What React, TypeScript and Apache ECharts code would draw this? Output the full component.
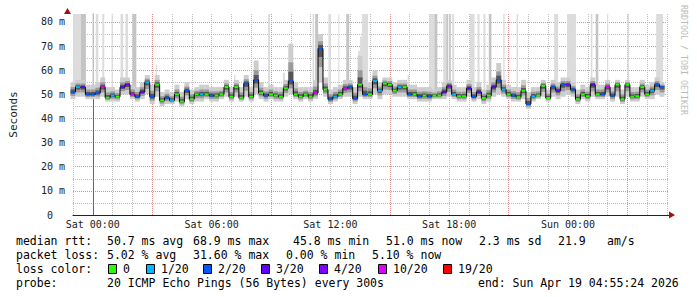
import React, { useEffect, useRef } from 'react';
import * as echarts from 'echarts';

// time axis: hours since Sat 00:00, one sample every 15 minutes starting Fri 23:00
const startHour = -1;
const stepHours = 0.25;

// median rtt (ms)
const median = [
  51, 53, 53, 50, 50, 50.5, 53, 48.6,
  49.5, 49, 53, 54, 50, 49, 51, 55,
  49, 54, 47.5, 48.6, 47.5, 50, 47, 51.5,
  48, 50, 50, 50, 49.5, 49.5, 50, 53,
  49, 53, 48.6, 54.5, 49, 56, 50.5, 49.5,
  50, 49.5, 49, 52.5, 55.5, 50, 49, 50,
  49, 50.5, 69, 52, 48, 49, 50, 52.5,
  53, 48.3, 54, 50, 50, 55.5, 51.5, 54.5,
  54, 51.5, 53, 53, 50, 50, 49.2, 49.5,
  49.2, 49.5, 49.5, 51, 53.5, 50, 49.2, 49.2,
  52.5, 49, 51, 48.5, 49.5, 53, 56, 52,
  50, 49.5, 48.8, 51.5, 46, 49.2, 49.5, 53.5,
  48.5, 53, 51.5, 54, 54, 52, 48, 50,
  49.2, 54, 50, 50, 53, 49.5, 54, 48,
  54, 49, 49.2, 53, 50, 51.5, 54, 53,
];

// pings lost out of 20
const lossCount = [
  2, 1, 3, 2, 2, 2, 10, 0,
  1, 0, 3, 4, 10, 2, 3, 1,
  2, 0, 0, 2, 1, 0, 0, 2,
  0, 0, 1, 0, 2, 0, 0, 0,
  0, 0, 0, 2, 0, 2, 0, 2,
  0, 0, 0, 0, 2, 0, 0, 0,
  0, 10, 2, 0, 2, 1, 0, 10,
  2, 2, 0, 2, 0, 1, 1, 0,
  0, 0, 1, 0, 2, 0, 2, 0,
  2, 0, 0, 3, 4, 1, 0, 0,
  3, 2, 3, 0, 0, 3, 2, 1,
  0, 2, 0, 0, 2, 1, 0, 0,
  0, 2, 3, 2, 4, 2, 0, 0,
  0, 3, 0, 2, 10, 2, 0, 0,
  0, 0, 0, 0, 0, 1, 2, 2,
];

// smoke: lowest and highest ping of each sample (ms)
const smokeLo = [
  48, 49, 49, 48, 48, 48, 49, 47,
  47, 47, 50, 50, 48, 47, 48, 50,
  46, 49, 45, 46, 46, 47, 45, 48,
  46, 47, 47, 48, 47, 47, 48, 49,
  47, 49, 47, 49, 47, 50, 48, 47,
  48, 47, 47, 49, 50, 48, 47, 48,
  47, 48, 55, 49, 46, 47, 48, 49,
  49, 46, 49, 48, 48, 50, 48, 50,
  50, 49, 49, 49, 48, 48, 47, 47,
  47, 48, 48, 48, 49, 48, 47, 47,
  49, 47, 48, 46, 47, 49, 50, 49,
  48, 47, 47, 48, 44, 47, 48, 49,
  47, 49, 48, 49, 50, 49, 46, 48,
  47, 49, 48, 48, 49, 47, 49, 46,
  49, 47, 47, 49, 48, 48, 50, 49,
];
const smokeHi = [
  55, 56, 56, 54, 54, 55, 57, 53,
  53, 52, 57, 57, 54, 53, 55, 58,
  54, 58, 51, 52, 51, 54, 51, 55,
  52, 53, 54, 54, 53, 53, 53, 56,
  53, 56, 53, 58, 53, 64, 55, 53,
  54, 53, 53, 56, 71, 55, 53, 53,
  53, 56, 75, 57, 52, 53, 54, 56,
  56, 53, 66, 56, 55, 60, 55, 57,
  57, 55, 56, 56, 54, 54, 53, 53,
  53, 52, 53, 55, 56, 54, 53, 53,
  56, 53, 55, 52, 54, 57, 63, 56,
  54, 53, 53, 56, 51, 53, 53, 56,
  52, 56, 55, 57, 57, 55, 52, 54,
  53, 57, 54, 54, 56, 53, 56, 52,
  56, 53, 53, 56, 54, 55, 57, 55,
];

// tall gray bars (samples with lost pings reaching the top)
const lossBarStart = [-1.0, -0.6, -0.03, 0.15, 0.48, 0.95, 1.4, 1.65, 2.0, 3.18, 7.13, 8.85, 9.6, 11.1, 11.23, 11.9, 12.4, 12.8, 13.4, 13.5, 13.6, 15.9, 17.0, 17.25, 17.7, 17.85, 18.0, 18.15, 19.05, 19.43, 19.73, 20.0, 20.73, 21.4, 23.3, 23.95, 25.15, 25.4, 25.98, 27.0, 28.45];
const lossBarEnd = [-0.6, -0.35, 0.05, 0.28, 0.58, 1.0, 1.53, 1.78, 2.2, 3.25, 7.2, 8.95, 9.7, 11.18, 11.38, 12.03, 12.45, 12.95, 13.5, 13.6, 13.9, 15.98, 17.25, 17.4, 17.85, 17.95, 18.08, 18.25, 19.28, 19.53, 19.83, 20.13, 20.8, 21.48, 23.5, 24.4, 25.23, 25.53, 26.03, 27.08, 28.8];
const lossBarTop = [83.3, 83.3, 83.3, 83.3, 83.3, 83.3, 83.3, 83.3, 83.3, 62, 58, 83.3, 59, 83.3, 83.3, 83.3, 83.3, 83.3, 68, 74, 83.3, 58, 83.3, 83.3, 83.3, 83.3, 83.3, 83.3, 83.3, 83.3, 83.3, 83.3, 83.3, 83.3, 83.3, 83.3, 83.3, 83.3, 83.3, 83.3, 83.3];
const lossBarShade = [0, 1, 0, 0, 0, 0, 0, 0, 1, 0, 0, 0, 0, 0, 1, 0, 0, 1, 0, 0, 0, 0, 0, 1, 0, 1, 1, 0, 0, 0, 0, 1, 0, 0, 0, 0, 0, 1, 0, 0, 0];

const yTickValues = [0, 10, 20, 30, 40, 50, 60, 70, 80];
const xLabelHours = [0, 6, 12, 18, 24];
const xLabels = ['Sat 00:00', 'Sat 06:00', 'Sat 12:00', 'Sat 18:00', 'Sun 00:00'];

const lossLegendCounts = [0, 1, 2, 3, 4, 10, 19];
const lossLegendLabels = ['0', '1/20', '2/20', '3/20', '4/20', '10/20', '19/20'];
const lossColors: Record<number, string> = {
  0: '#26ff00', 1: '#00b8ff', 2: '#0059ff', 3: '#5e00ff', 4: '#7e00ff', 10: '#dd00ff', 19: '#ff0000',
};

const MONO = "'DejaVu Sans Mono', monospace";
const RED_GRID = '#e08c8c';
const GRAY_GRID = '#bdbdbd';
const X_MIN = -1;
const X_MAX = 29.1;
const Y_MAX = 83.3;

export default function App() {
  const ref = useRef<HTMLDivElement>(null);
  useEffect(() => {
    const chart = echarts.init(ref.current!, null, { renderer: 'svg' });
    const hours = median.map((_, i) => startHour + i * stepHours);
    const half = stepHours / 2;

    const legendBoxX = [108, 146, 203, 261, 319, 378, 443];

    const textEl = (x: number, y: number, text: string) => ({
      type: 'text', x, y,
      style: { text, fill: '#000', font: `11.5px ${MONO}`, textVerticalAlign: 'middle', textAlign: 'left' },
    });

    const graphic: any[] = [
      { type: 'polygon', z: 30, shape: { points: [[64, 14], [71, 14], [67.5, 8]] }, style: { fill: '#a01010' } },
      { type: 'polygon', z: 30, shape: { points: [[669, 211.5], [669, 218.5], [675, 215]] }, style: { fill: '#a01010' } },
      {
        type: 'text', x: 684, y: 5, rotation: -Math.PI / 2,
        style: { text: 'RRDTOOL / TOBI OETIKER', fill: '#bbbbbb', font: `8.3px ${MONO}`, textAlign: 'left', textVerticalAlign: 'middle' },
      },
      textEl(16, 241, 'median rtt:'),
      textEl(107, 241, '50.7 ms avg'),
      textEl(193, 241, '68.9 ms max'),
      textEl(293, 241, '45.8 ms min'),
      textEl(386, 241, '51.0 ms now'),
      textEl(479, 241, '2.3 ms sd'),
      textEl(558, 241, '21.9'),
      textEl(607, 241, 'am/s'),
      textEl(16, 255, 'packet loss:'),
      textEl(107, 255, '5.02 % avg'),
      textEl(193, 255, '31.60 % max'),
      textEl(286, 255, '0.00 % min'),
      textEl(372, 255, '5.10 % now'),
      textEl(16, 269, 'loss color:'),
      textEl(16, 283, 'probe:'),
      textEl(107, 283, '20 ICMP Echo Pings (56 Bytes) every 300s'),
      textEl(478, 283, 'end: Sun Apr 19 04:55:24 2026'),
    ];
    lossLegendCounts.forEach((c, i) => {
      const bx = legendBoxX[i];
      graphic.push({
        type: 'rect',
        shape: { x: bx + 0.5, y: 264.5, width: 8, height: 9 },
        style: { fill: lossColors[c], stroke: '#000', lineWidth: 1 },
      });
      graphic.push(textEl(bx + 15, 269, lossLegendLabels[i]));
    });

    chart.setOption({
      animation: false,
      backgroundColor: '#ffffff',
      grid: { left: 67, right: 28, top: 14, bottom: 82 },
      xAxis: {
        type: 'value', min: X_MIN, max: X_MAX, interval: 1,
        axisLine: { show: true, lineStyle: { color: '#222', width: 1 } },
        axisTick: { show: false },
        // hour lines; every 6th (03:00, 09:00, ...) in red
        splitLine: {
          show: true, showMinLine: true, showMaxLine: false,
          lineStyle: { color: [GRAY_GRID, GRAY_GRID, GRAY_GRID, GRAY_GRID, RED_GRID, GRAY_GRID], type: [1, 1], width: 1 },
        },
        axisLabel: {
          customValues: xLabelHours,
          formatter: (v: number) => xLabels[xLabelHours.indexOf(v)] ?? '',
          fontFamily: MONO, fontSize: 10, color: '#222', margin: 4,
        },
      },
      yAxis: {
        type: 'value', min: 0, max: Y_MAX, interval: 5,
        name: 'Seconds', nameLocation: 'middle', nameGap: 54, nameRotate: 90,
        nameTextStyle: { fontFamily: MONO, fontSize: 11, color: '#222' },
        axisLine: { show: true, lineStyle: { color: '#666', width: 1 } },
        axisTick: { show: false },
        splitLine: {
          show: true, showMinLine: true, showMaxLine: false,
          lineStyle: { color: [RED_GRID, GRAY_GRID], type: [1, 1], width: 1 },
        },
        axisLabel: {
          customValues: yTickValues,
          formatter: (v: number) => (v === 0 ? '0\u00a0\u00a0' : `${v} m`),
          fontFamily: MONO, fontSize: 10, color: '#222', margin: 8,
        },
      },
      series: [
        {
          type: 'custom', name: 'lossbars', z: 1,
          data: lossBarStart.map((s, i) => [s, lossBarEnd[i], lossBarTop[i], lossBarShade[i]]),
          encode: { x: [0, 1], y: 2 },
          renderItem: (params: any, api: any) => {
            const p0 = api.coord([api.value(0), 50]);
            const p1 = api.coord([api.value(1), api.value(2)]);
            return {
              type: 'rect',
              shape: { x: p0[0], y: p1[1], width: Math.max(1, p1[0] - p0[0]), height: p0[1] - p1[1] },
              style: { fill: api.value(3) ? '#c4c4c4' : '#dcdcdc' },
            };
          },
        },
        {
          type: 'custom', name: 'smoke', z: 3,
          data: hours.map((h, i) => [h, smokeLo[i], smokeHi[i], median[i]]),
          encode: { x: 0, y: [1, 2] },
          renderItem: (params: any, api: any) => {
            const h = api.value(0), lo = api.value(1), hi = api.value(2), med = api.value(3);
            const xL = api.coord([h - half, 0])[0];
            const xR = api.coord([h + half, 0])[0];
            const yy = (v: number) => api.coord([h, v])[1];
            const band = (a: number, b: number, fill: string) => ({
              type: 'rect', shape: { x: xL, y: yy(b), width: xR - xL, height: yy(a) - yy(b) }, style: { fill },
            });
            return {
              type: 'group',
              children: [
                band(lo, hi, '#cdcdcd'),
                band(med - (med - lo) * 0.55, med + (hi - med) * 0.5, '#9a9a9a'),
                band(med - (med - lo) * 0.25, med + (hi - med) * 0.25, '#555555'),
              ],
            };
          },
        },
        {
          type: 'line', name: 'median', z: 4,
          data: hours.map((h, i) => [h, median[i]]),
          step: 'middle', symbol: 'none',
          lineStyle: { color: '#000', width: 1 },
        },
        {
          type: 'custom', name: 'losscolor', z: 5,
          data: hours.map((h, i) => [h, median[i], lossCount[i]]),
          encode: { x: 0, y: 1 },
          renderItem: (params: any, api: any) => {
            const h = api.value(0), med = api.value(1), lc = api.value(2);
            const xL = api.coord([h - half, med]);
            const xR = api.coord([h + half, med]);
            return {
              type: 'rect',
              shape: { x: xL[0] + 0.5, y: xL[1] - 1, width: xR[0] - xL[0] - 1, height: 2 },
              style: { fill: lossColors[lc] || '#000' },
            };
          },
        },
      ],
      graphic,
    });

    return () => chart.dispose();
  }, []);
  return (
    <div
      ref={ref}
      style={{ position: 'absolute', left: 0, top: 0, width: 697, height: 297, background: '#fff' }}
    />
  );
}
